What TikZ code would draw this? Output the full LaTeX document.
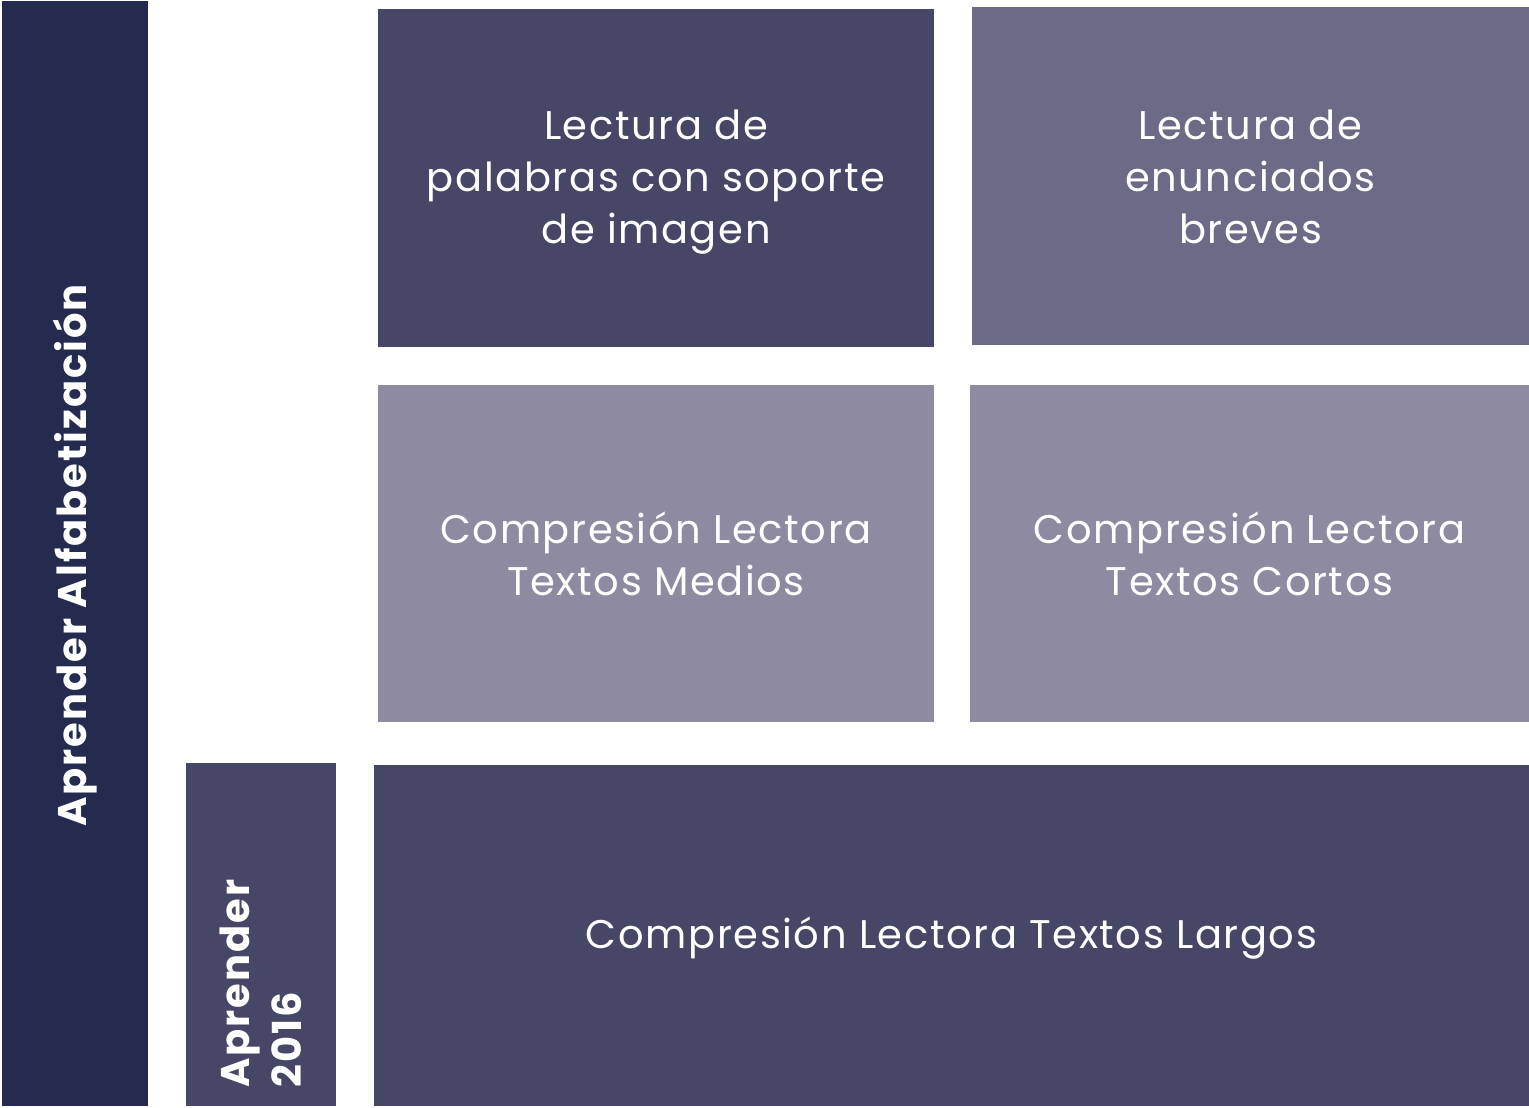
\documentclass[tikz,border=0pt]{standalone}
\usepackage{fontspec}
\setmainfont{Poppins}
\usetikzlibrary{calc}
\definecolor{barDark}{HTML}{252B4F}
\definecolor{boxDark}{HTML}{464667}
\definecolor{boxMid}{HTML}{6D6A87}
\definecolor{boxLight}{HTML}{8E8AA2}
\tikzset{
    tile/.style={inner sep=0pt, outer sep=0pt, text=white, align=center,
        font=\fontsize{40}{52}\selectfont\addfontfeature{LetterSpace=4}},
    label/.style={text=white, font=\bfseries\fontsize{40}{52}\selectfont\addfontfeature{LetterSpace=5}}
}
\begin{document}
\begin{tikzpicture}[x=1pt,y=-1pt]
    \useasboundingbox (0,0) rectangle (1529,1108);

    \node[tile, fill=barDark, minimum width=146pt, minimum height=1105pt] (alfa) at (75,553.5) {};
    \node[tile, fill=boxDark, minimum width=150pt, minimum height=343pt] (ap16) at (261,934.5) {};
    \node[tile, fill=boxDark, minimum width=556pt, minimum height=338pt] (palabras) at (656,178) {};
    \node[tile, fill=boxMid, minimum width=557pt, minimum height=338pt] (enunciados) at (1250.5,176) {};
    \node[tile, fill=boxLight, minimum width=556pt, minimum height=337pt] (medios) at (656,553.5) {};
    \node[tile, fill=boxLight, minimum width=559pt, minimum height=337pt] (cortos) at (1249.5,553.5) {};
    \node[tile, fill=boxDark, minimum width=1155pt, minimum height=341pt] (largos) at (951.5,935.5) {};

    \node[tile] (tPalabras) at ($(palabras)+(0,4)$) {Lectura de\\palabras con soporte\\de imagen};
    \node[tile] (tEnunciados) at ($(enunciados)+(0,1)$) {Lectura de\\enunciados\\breves};
    \node[tile] (tMedios) at ($(medios)+(0,0)$) {Compresión Lectora\\Textos Medios};
    \node[tile] (tCortos) at ($(cortos)+(0,0)$) {Compresión Lectora\\Textos Cortos};
    \node[tile] (tLargos) at ($(largos)+(0,3)$) {Compresión Lectora Textos Largos};

    \node[label, rotate=90] (tAlfa) at ($(alfa)+(0,2)$) {Aprender Alfabetización};
    \node[label, rotate=90, anchor=west, align=left, inner sep=0pt] (tAp16) at ($(ap16.south)+(0,-18)$) {Aprender\\2016};
\end{tikzpicture}
\end{document}
